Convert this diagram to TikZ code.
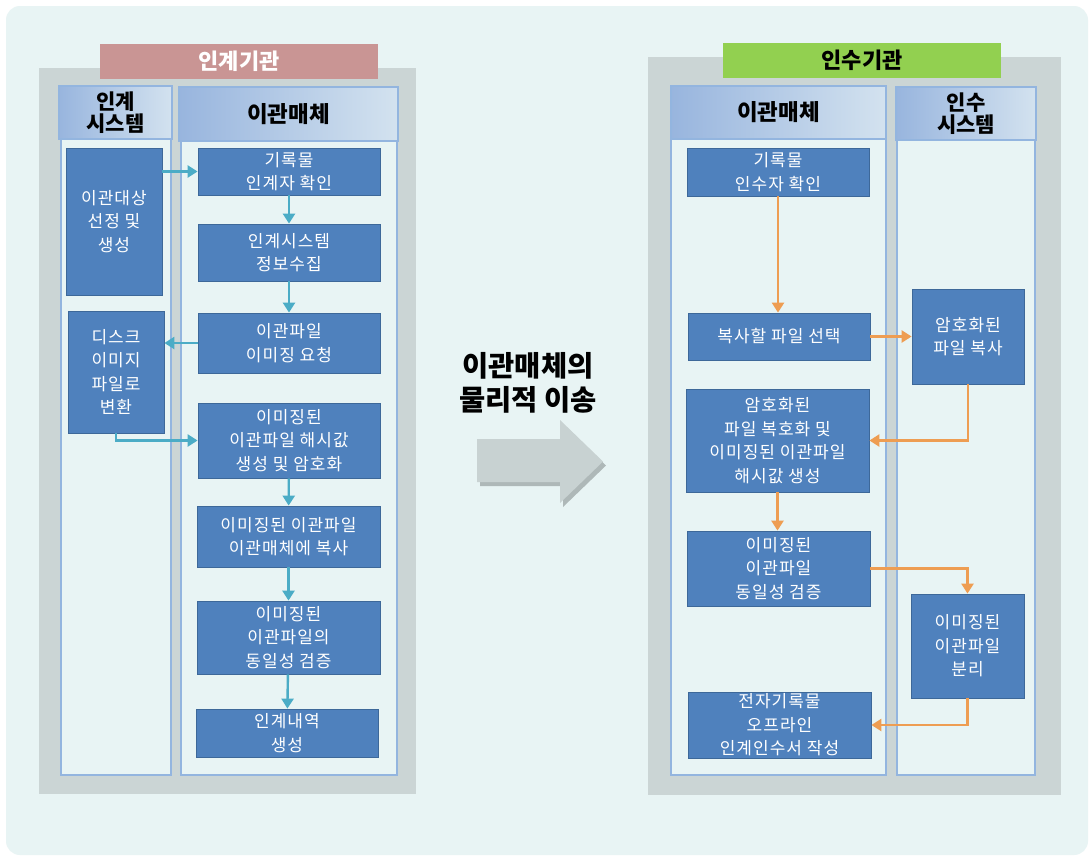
\documentclass[tikz,border=0pt]{standalone}
\usepackage{fontspec}
\setmainfont{Noto Sans CJK KR}
\usetikzlibrary{arrows.meta}

\definecolor{bgcol}{HTML}{E8F4F4}
\definecolor{panelcol}{HTML}{CBD5D5}
\definecolor{laneline}{HTML}{93B5DF}
\definecolor{headl}{HTML}{98B5DE}
\definecolor{headr}{HTML}{D3E2EF}
\definecolor{boxfill}{HTML}{4F81BD}
\definecolor{boxline}{HTML}{3D6899}
\definecolor{tealcol}{HTML}{4BACC6}
\definecolor{orangecol}{HTML}{EE9D52}
\definecolor{pinkcol}{HTML}{C99594}
\definecolor{greencol}{HTML}{92D050}
\definecolor{arrowgray}{HTML}{C8D2D2}
\definecolor{shadowgray}{HTML}{AEB8B8}

\tikzset{
	proc/.style={draw=boxline, fill=boxfill, text=white, align=center, inner sep=0pt, line width=0.8pt, font=\fontsize{17}{23.5}\selectfont\addfontfeature{LetterSpace=6}},
	lane/.style={draw=laneline, fill=bgcol, line width=1.6pt},
	lanehead/.style={draw=laneline, left color=headl, right color=headr, line width=1.6pt, align=center, inner sep=0pt, font=\bfseries\fontsize{21}{22}\selectfont},
	orghead/.style={minimum width=278pt, minimum height=35pt, inner sep=0pt, font=\bfseries\fontsize{22}{22}\selectfont},
	blueflow/.style={draw=tealcol, line width=2.4pt, -{Triangle[width=12pt,length=10pt]}},
	orangeflow/.style={draw=orangecol, line width=2.4pt, -{Triangle[width=12pt,length=10pt]}}
}

\begin{document}
\begin{tikzpicture}[x=1pt, y=-1pt]
		
		\useasboundingbox (0,0) rectangle (1091,857);
		\fill[white] (0,0) rectangle (1091,857);
		\fill[bgcol, rounded corners=14pt] (6,6) rectangle (1088,855);
		
		\fill[panelcol] (39,68) rectangle (416,794);
		\fill[panelcol] (648,57) rectangle (1061,795);
		
		\node[orghead, fill=pinkcol, text=white] (orgL) at (239,61) {인계기관};
		\node[orghead, fill=greencol, text=black] (orgR) at (862,60.5) {인수기관};
		
		\draw[lane] (61,139) rectangle (171,775);
		\draw[lane] (181,141) rectangle (397,775);
		\draw[lane] (671,139) rectangle (886,775);
		\draw[lane] (897,140) rectangle (1035,775);
		
		\node[lanehead, minimum width=113pt, minimum height=53pt] (hsysL) at (115.5,112.5) {인계\\시스템};
		\node[lanehead, minimum width=219pt, minimum height=54pt, font=\bfseries\fontsize{22.5}{22}\selectfont] (hmedL) at (288.5,114) {이관매체};
		\node[lanehead, minimum width=215pt, minimum height=53pt, font=\bfseries\fontsize{22.5}{22}\selectfont] (hmedR) at (778.5,112.5) {이관매체};
		\node[lanehead, minimum width=140pt, minimum height=53pt] (hsysR) at (966,113.5) {인수\\시스템};
		
		\node[proc, minimum width=96pt, minimum height=147pt] (target) at (114,221.5) {이관대상\\선정 및\\생성};
		\node[proc, minimum width=182pt, minimum height=47pt] (checkL) at (289,171.5) {기록물\\인계자 확인};
		\node[proc, minimum width=182pt, minimum height=57pt] (collect) at (289,252.5) {인계시스템\\정보수집};
		\node[proc, minimum width=182pt, minimum height=60pt] (request) at (289,343) {이관파일\\이미징 요청};
		\node[proc, minimum width=96pt, minimum height=122pt] (disk) at (116,372) {디스크\\이미지\\파일로\\변환};
		\node[proc, minimum width=182pt, minimum height=75pt] (hashL) at (289,440.5) {이미징된\\이관파일 해시값\\생성 및 암호화};
		\node[proc, minimum width=183pt, minimum height=61pt] (copyL) at (288.5,536.5) {이미징된 이관파일\\이관매체에 복사};
		\node[proc, minimum width=183pt, minimum height=73pt] (verifyL) at (288.5,637.5) {이미징된\\이관파일의\\동일성 검증};
		\node[proc, minimum width=182pt, minimum height=48pt] (report) at (287,733) {인계내역\\생성};
		
		\draw[blueflow] (target.east |- checkL.west) -- (checkL.west);
		\draw[blueflow] (checkL) -- (collect);
		\draw[blueflow] (collect) -- (request);
		\draw[blueflow] (request.west) -- (request.west -| disk.east);
		\draw[blueflow] (disk.south) |- (hashL.west);
		\draw[blueflow] (hashL) -- (copyL);
		\draw[blueflow] (copyL) -- (verifyL);
		\draw[blueflow] (verifyL) -- (report);
		
		\node[proc, minimum width=182pt, minimum height=48pt] (checkR) at (778,172) {기록물\\인수자 확인};
		\node[proc, minimum width=182pt, minimum height=47pt] (pick) at (779,336.5) {복사할 파일 선택};
		\node[proc, minimum width=112pt, minimum height=95pt] (enccopy) at (968,336.5) {암호화된\\파일 복사};
		\node[proc, minimum width=183pt, minimum height=103pt] (decode) at (777.5,440.5) {암호화된\\파일 복호화 및\\이미징된 이관파일\\해시값 생성};
		\node[proc, minimum width=183pt, minimum height=75pt] (verifyR) at (778.5,568.5) {이미징된\\이관파일\\동일성 검증};
		\node[proc, minimum width=113pt, minimum height=104pt] (split) at (967.5,646) {이미징된\\이관파일\\분리};
		\node[proc, minimum width=183pt, minimum height=66pt] (offline) at (779.5,725) {전자기록물\\오프라인\\인계인수서 작성};
		
		\draw[orangeflow] (checkR.south) -- (checkR.south |- pick.north);
		\draw[orangeflow] (pick) -- (enccopy);
		\draw[orangeflow] (enccopy.south) |- (decode.east);
		\draw[orangeflow] (decode.south) -- (decode.south |- verifyR.north);
		\draw[orangeflow] (verifyR.east) -| (split.north);
		\draw[orangeflow] (split.south) |- (offline.east);
		
		\node[font=\bfseries\fontsize{28.5}{34}\selectfont, align=center] (move) at (528,383) {이관매체의\\물리적 이송};
		
		\fill[shadowgray] (480,443) -- (563,443) -- (563,424) -- (606,465.5) -- (563,507) -- (563,486) -- (480,486) -- cycle;
		\fill[arrowgray] (477,439) -- (560,439) -- (560,420) -- (603,461.5) -- (560,503) -- (560,482) -- (477,482) -- cycle;
	
	\end{tikzpicture}
\end{document}
